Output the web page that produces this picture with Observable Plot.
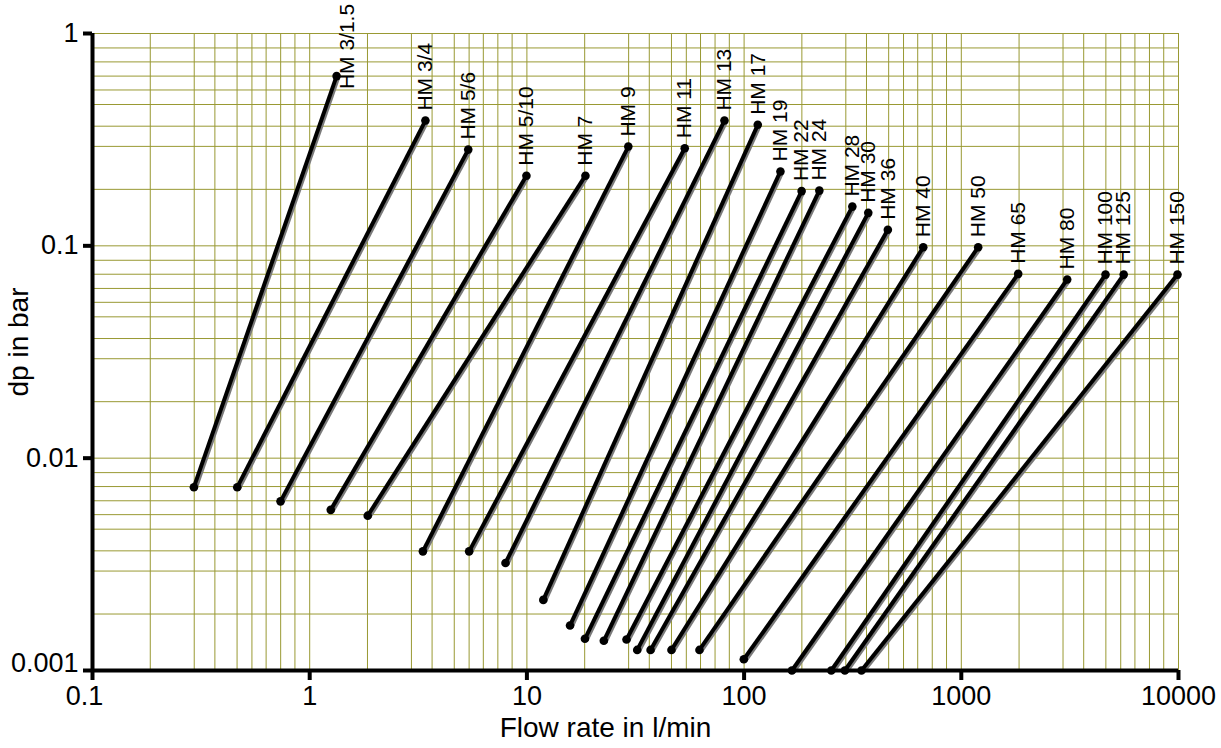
<!DOCTYPE html>
<html>
<head>
<meta charset="utf-8">
<script src="https://cdn.jsdelivr.net/npm/d3@7"></script>
<script src="https://cdn.jsdelivr.net/npm/@observablehq/plot@0.6"></script>
<style>
  body { margin: 0; background: #fff; }
  svg { overflow: visible; }
</style>
</head>
<body>
<div id="chart"></div>
<script>
// Model names and the two end points of each pressure-drop line
const models  = ["HM 3/1.5","HM 3/4","HM 5/6","HM 5/10","HM 7","HM 9","HM 11","HM 13","HM 17","HM 19","HM 22",
                 "HM 24","HM 28","HM 30","HM 36","HM 40","HM 50","HM 65","HM 80","HM 100","HM 125","HM 150"];
const flowMin = [0.293, 0.464, 0.734, 1.25, 1.85, 3.32, 5.42, 7.97, 11.9, 15.8, 18.5,
                 22.6, 28.75, 32.2, 37.1, 46.3, 62.3, 99.7, 166, 252, 291, 347];
const dpMin   = [0.0073, 0.0073, 0.00626, 0.00571, 0.00536, 0.00364, 0.00364, 0.00321, 0.00215, 0.00163, 0.00141,
                 0.00138, 0.0014, 0.00125, 0.00125, 0.00125, 0.00125, 0.00113, 0.001, 0.001, 0.001, 0.001];
const flowMax = [1.33, 3.41, 5.37, 9.95, 18.6, 29.3, 53.3, 81.2, 115.6, 147, 184,
                 222, 315, 373, 459, 668, 1196, 1828, 3073, 4613, 5594, 9893];
const dpMax   = [0.63, 0.389, 0.284, 0.214, 0.214, 0.2935, 0.288, 0.389, 0.3715, 0.224, 0.181,
                 0.182, 0.153, 0.143, 0.119, 0.0985, 0.0985, 0.0738, 0.0694, 0.0732, 0.0732, 0.0732];

// Axis ticks
const xTickValues = [0.1, 1, 10, 100, 1000, 10000];
const xTickLabels = ["0.1", "1", "10", "100", "1000", "10000"];
const yTickValues = [0.001, 0.01, 0.1, 1];
const yTickLabels = ["0.001", "0.01", "0.1", "1"];
// grid line multipliers within each decade
const gridSteps = [1, 1.845, 2.94, 3.66, 4.63, 5.42, 6.30, 7.35, 8.55];
const xDecades = [0.1, 1, 10, 100, 1000];
const yDecades = [0.001, 0.01, 0.1];

const rows = models.map((name, i) => ({
  name, q1: flowMin[i], dp1: dpMin[i], q2: flowMax[i], dp2: dpMax[i]
}));
const gridXValues = xDecades.flatMap(d => gridSteps.map(s => d * s)).concat([10000]);
const gridYValues = yDecades.flatMap(d => gridSteps.map(s => d * s)).concat([1]);
const xLabelMap = new Map(xTickValues.map((v, i) => [v, xTickLabels[i]]));
const yLabelMap = new Map(yTickValues.map((v, i) => [v, yTickLabels[i]]));

const gridColor = "#999933";
const firstModel = models[0];
const xFirst = xTickValues[0];
const yFirst = yTickValues[0];

const chart = Plot.plot({
  width: 1221,
  height: 748,
  marginLeft: 92,
  marginRight: 43,
  marginTop: 33,
  marginBottom: 78,
  x: { type: "log", domain: [0.1, 10000] },
  y: { type: "log", domain: [0.001, 1] },
  style: { fontFamily: "'Liberation Sans', Arial, sans-serif", background: "#fff", overflow: "visible" },
  marks: [
    Plot.gridX(gridXValues, { stroke: gridColor, strokeOpacity: 1, strokeWidth: 1 }),
    Plot.gridY(gridYValues, { stroke: gridColor, strokeOpacity: 1, strokeWidth: 1 }),
    Plot.link(rows, { x1: "q1", y1: "dp1", x2: "q2", y2: "dp2", stroke: "#7a7a7a", strokeWidth: 4.2, dx: 1.5, dy: 1.5 }),
    Plot.link(rows, { x1: "q1", y1: "dp1", x2: "q2", y2: "dp2", stroke: "#000", strokeWidth: 4 }),
    Plot.dot(rows, { x: "q1", y: "dp1", r: 4.3, fill: "#000" }),
    Plot.dot(rows, { x: "q2", y: "dp2", r: 4.3, fill: "#000" }),
    Plot.text(rows, { filter: d => d.name !== firstModel, x: "q2", y: "dp2", text: "name", rotate: -90,
                      textAnchor: "start", lineAnchor: "middle", dy: -10, fontSize: 21, fill: "#000" }),
    Plot.text(rows, { filter: d => d.name === firstModel, x: "q2", y: "dp2", text: "name", rotate: -90,
                      textAnchor: "start", lineAnchor: "middle", dx: 11, dy: 13, fontSize: 21, fill: "#000" }),
    Plot.ruleX([0.1], { stroke: "#000", strokeWidth: 4 }),
    Plot.ruleY([0.001], { stroke: "#000", strokeWidth: 4 }),
    // x axis: ticks for all, labels for all but the first (which sits slightly left, as in the reference)
    Plot.axisX(xTickValues, { tickFormat: d => d === xFirst ? "" : xLabelMap.get(d), tickSize: 10, tickPadding: 5,
                              strokeWidth: 4, fontSize: 27, label: null }),
    Plot.axisX([xFirst], { tickFormat: d => xLabelMap.get(d), tickSize: 0, tickPadding: 15, dx: -8,
                           fontSize: 27, label: null }),
    // y axis: same approach for the lowest label, which sits slightly higher
    Plot.axisY(yTickValues, { tickFormat: d => d === yFirst ? "" : yLabelMap.get(d), tickSize: 9, tickPadding: 5,
                              strokeWidth: 4, fontSize: 27, label: null }),
    Plot.axisY([yFirst], { tickFormat: d => yLabelMap.get(d), tickSize: 0, tickPadding: 14, dy: -7,
                           fontSize: 27, label: null }),
    Plot.text(["Flow rate in l/min"], { frameAnchor: "bottom", textAnchor: "middle", lineAnchor: "middle",
                                        dx: -30, dy: 58, fontSize: 28, fill: "#000" }),
    Plot.text(["dp in bar"], { frameAnchor: "left", textAnchor: "middle", lineAnchor: "middle",
                               dx: -73, dy: -10, rotate: -90, fontSize: 28, fill: "#000" })
  ]
});
document.getElementById("chart").appendChild(chart);
</script>
</body>
</html>
